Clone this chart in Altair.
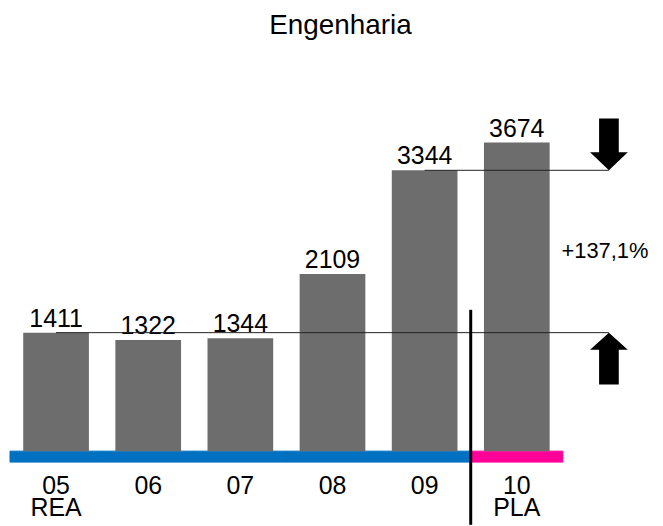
import altair as alt
import pandas as pd

# ---- data ----
title_text = "Engenharia"
years = ["05", "06", "07", "08", "09", "10"]
phases = ["REA", "REA", "REA", "REA", "REA", "PLA"]
values = [1411, 1322, 1344, 2109, 3344, 3674]
sub_labels = {"05": "REA", "10": "PLA"}
change_text = "+137,1%"
ref_low_year = "05"
ref_high_year = "09"
annot_col = " "

low_val = values[years.index(ref_low_year)]
high_val = values[years.index(ref_high_year)]
boundary_year = years[phases.index("PLA")]

FONT = "Liberation Sans"
BAR_GRAY = "#6d6d6d"
BLUE = "#0070c0"
PINK = "#ff0099"

W, H = 648, 352

x_domain = years + [annot_col]
xscale = alt.Scale(domain=x_domain, paddingInner=0, paddingOuter=0)
yscale = alt.Scale(domain=[0, 4172], nice=False, zero=True)
phase_scale = alt.Scale(domain=["REA", "PLA"], range=[BLUE, PINK])

label_expr = " : ".join(
    [f"datum.value == '{k}' ? ['{k}','{v}']" for k, v in sub_labels.items()]
) + " : datum.value"

x_axis = alt.Axis(labelAngle=0, domain=False, ticks=False, tickSize=0, grid=False,
                  labelPadding=23, labelFontSize=25, labelFont=FONT,
                  labelColor="black", labelLineHeight=22,
                  labelBaseline="top", labelExpr=label_expr, title=None)


def X(field, **kw):
    return alt.X(field, scale=xscale, axis=x_axis, title=None, **kw)


def Y(field):
    return alt.Y(field, scale=yscale, axis=None)


bars_df = pd.DataFrame({"year": years, "value": values, "phase": phases})
refs_df = pd.DataFrame({
    "year": [ref_low_year, ref_high_year],
    "end": [annot_col, annot_col],
    "value": [low_val, high_val],
})
down_df = pd.DataFrame({"year": [annot_col], "value": [high_val]})
up_df = pd.DataFrame({"year": [annot_col], "value": [low_val]})
pct_df = pd.DataFrame({"year": [annot_col], "value": [(low_val + high_val) / 2], "text": [change_text]})
bound_df = pd.DataFrame({"year": [boundary_year]})

base = alt.Chart(bars_df)

bars = base.mark_bar(color=BAR_GRAY, width=alt.RelativeBandSize(0.713)).encode(
    x=X("year:N"),
    y=Y("value:Q"),
)

labels = base.mark_text(font=FONT, fontSize=25, color="black", baseline="alphabetic", dy=-6).encode(
    x=X("year:N"),
    y=Y("value:Q"),
    text="value:Q",
)

strip = base.mark_bar(width=alt.RelativeBandSize(1), strokeWidth=1).encode(
    x=X("year:N"),
    y=alt.value(H),
    y2=alt.value(H + 11),
    color=alt.Color("phase:N", scale=phase_scale, legend=None),
    stroke=alt.Stroke("phase:N", scale=phase_scale, legend=None),
)

refs = alt.Chart(refs_df).mark_rule(color="#222222", strokeWidth=1).encode(
    x=X("year:N", bandPosition=0.5),
    x2=alt.X2("end", bandPosition=0.5),
    y=Y("value:Q"),
)

down_path = "M -0.19 -1 L 0.19 -1 L 0.19 -0.35 L 0.365 -0.35 L 0 0 L -0.365 -0.35 L -0.19 -0.35 Z"
up_path = "M -0.19 1 L 0.19 1 L 0.19 0.33 L 0.365 0.33 L 0 0 L -0.365 0.33 L -0.19 0.33 Z"

down_arrow = alt.Chart(down_df).mark_point(shape=down_path, size=10816, filled=True,
                                           color="black", opacity=1, strokeWidth=0).encode(
    x=X("year:N"),
    y=Y("value:Q"),
)
up_arrow = alt.Chart(up_df).mark_point(shape=up_path, size=10816, filled=True,
                                       color="black", opacity=1, strokeWidth=0).encode(
    x=X("year:N"),
    y=Y("value:Q"),
)

pct = alt.Chart(pct_df).mark_text(font=FONT, fontSize=22, color="black", baseline="middle", dx=-4).encode(
    x=X("year:N"),
    y=Y("value:Q"),
    text="text:N",
)

boundary = alt.Chart(bound_df).mark_rule(color="black", strokeWidth=3).encode(
    x=X("year:N", bandPosition=0),
    y=alt.value(210),
    y2=alt.value(426),
)

chart = alt.layer(strip, bars, labels, refs, down_arrow, up_arrow, pct, boundary).properties(
    width=W,
    height=H,
    autosize="none",
    padding={"left": 2, "top": 92, "right": 0, "bottom": 74},
    title=alt.TitleParams(title_text, font=FONT, fontSize=28, fontWeight="normal",
                          color="black", anchor="middle", frame="group", dx=8,
                          baseline="alphabetic", offset=39),
).configure(font=FONT, view=alt.ViewConfig(stroke=None))

chart.save("out.html", embed_options={"renderer": "svg", "actions": False})
